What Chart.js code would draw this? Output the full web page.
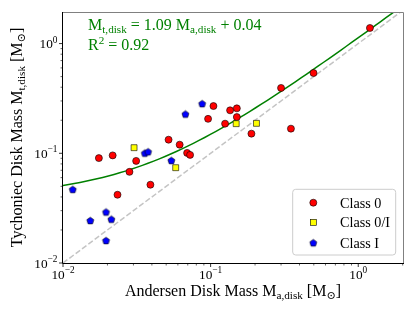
<!DOCTYPE html>
<html>
<head>
<meta charset="utf-8">
<script src="https://cdn.jsdelivr.net/npm/chart.js@4"></script>
<style>
  html, body { margin: 0; padding: 0; background: #fff; }
  canvas { display: block; }
</style>
</head>
<body>
<canvas id="myChart" width="415" height="311"></canvas>
<script>
// Andersen (x) vs Tychoniec (y) disk masses, in solar masses
var class0X = [0.0175, 0.0217, 0.0313, 0.0282, 0.0519, 0.0617, 0.0234, 0.0391, 0.0693, 0.0726,
               0.1045, 0.1355, 0.1505, 0.0961, 0.1505, 0.1253, 0.189, 0.350, 0.300, 0.498, 1.20];
var class0Y = [0.0904, 0.0957, 0.0852, 0.0677, 0.133, 0.1198, 0.0419, 0.0517, 0.1008, 0.0967,
               0.2696, 0.2463, 0.2568, 0.206, 0.2139, 0.1862, 0.151, 0.1677, 0.394, 0.539, 1.387];

var class0IX = [0.0303, 0.058, 0.149, 0.2044];
var class0IY = [0.1125, 0.0739, 0.1862, 0.1875];

var classIX = [0.0358, 0.0377, 0.0542, 0.01164, 0.0153, 0.01956, 0.02126, 0.01956, 0.0675, 0.0876];
var classIY = [0.1004, 0.1034, 0.0861, 0.0469, 0.0244, 0.0292, 0.0251, 0.01604, 0.228, 0.2836];

var legendLabels = ['Class 0', 'Class 0/I', 'Class I'];
var majorTicks = [0.01, 0.1, 1];
var tickExponents = ['\u22122', '\u22121', '0'];

// fit from the plot annotation: M_t = 1.09 M_a + 0.04
var fitSlope = 1.09;
var fitIntercept = 0.04;
var fitR2 = 0.92;

var xMin = 0.01, xMax = 2.01;
var yMin = 0.01, yMax = 1.94;

function pts(xs, ys) {
  return xs.map(function(x, i) { return {x: x, y: ys[i]}; });
}

var fitPts = [];
for (var k = 0; k <= 60; k++) {
  var fx = xMin * Math.pow(xMax / xMin, k / 60);
  fitPts.push({x: fx, y: fitSlope * fx + fitIntercept});
}

function pentagon(r, fill) {
  var s = Math.ceil(r * 2 + 3);
  var c = document.createElement('canvas');
  c.width = s; c.height = s;
  var g = c.getContext('2d');
  g.beginPath();
  for (var i = 0; i < 5; i++) {
    var a = -Math.PI / 2 + i * 2 * Math.PI / 5;
    var px = s / 2 + r * Math.cos(a), py = s / 2 + 0.4 + r * Math.sin(a);
    if (i) g.lineTo(px, py); else g.moveTo(px, py);
  }
  g.closePath();
  g.fillStyle = fill; g.fill();
  g.lineWidth = 0.6; g.strokeStyle = '#000'; g.stroke();
  return c;
}
var pentaImg = pentagon(3.7, '#0000ff');

var SERIF = '"Liberation Serif", "DejaVu Serif", serif';

function richText(ctx, parts, x, y, size, align) {
  var w = 0;
  parts.forEach(function(p) {
    ctx.font = (p.s ? size * 0.7 : size) + 'px ' + SERIF;
    w += ctx.measureText(p.t).width;
  });
  var cx = align === 'center' ? x - w / 2 : (align === 'right' ? x - w : x);
  ctx.textAlign = 'left';
  ctx.textBaseline = 'alphabetic';
  parts.forEach(function(p) {
    ctx.font = (p.s ? size * 0.7 : size) + 'px ' + SERIF;
    var dy = p.s === 'sub' ? size * 0.22 : (p.s === 'sup' ? -size * 0.4 : 0);
    ctx.fillText(p.t, cx, y + dy);
    cx += ctx.measureText(p.t).width;
  });
}

function marker(ctx, type, x, y) {
  ctx.save();
  ctx.lineWidth = 0.6;
  ctx.strokeStyle = '#000';
  if (type === 0) {
    ctx.beginPath(); ctx.arc(x, y, 3.5, 0, Math.PI * 2);
    ctx.fillStyle = '#ff0000'; ctx.fill(); ctx.stroke();
  } else if (type === 1) {
    ctx.fillStyle = '#ffff00';
    ctx.fillRect(x - 3, y - 3, 6, 6); ctx.strokeRect(x - 3, y - 3, 6, 6);
  } else {
    ctx.drawImage(pentaImg, x - pentaImg.width / 2, y - pentaImg.height / 2);
  }
  ctx.restore();
}

var decor = {
  id: 'decor',
  afterDatasetsDraw: function(chart) {
    var ctx = chart.ctx, a = chart.chartArea;
    var xs = chart.scales.x, ys = chart.scales.y;
    ctx.save();

    // frame
    ctx.lineWidth = 1;
    ctx.strokeStyle = '#808080';
    ctx.beginPath();
    ctx.moveTo(a.left, a.top + 0.5); ctx.lineTo(a.right + 0.5, a.top + 0.5); ctx.lineTo(a.right + 0.5, a.bottom);
    ctx.stroke();
    ctx.strokeStyle = '#000';
    ctx.beginPath();
    ctx.moveTo(a.left - 0.5, a.top); ctx.lineTo(a.left - 0.5, a.bottom + 0.5); ctx.lineTo(a.right + 1, a.bottom + 0.5);
    ctx.stroke();

    // ticks
    ctx.strokeStyle = '#000';
    for (var e = -2; e <= 0; e++) {
      for (var m = 1; m <= 9; m++) {
        var v = m * Math.pow(10, e);
        var len = m === 1 ? 3.5 : 2;
        ctx.lineWidth = m === 1 ? 0.8 : 0.6;
        if (v >= xMin && v <= xMax) {
          var px = xs.getPixelForValue(v);
          ctx.beginPath(); ctx.moveTo(px, a.bottom + 0.5); ctx.lineTo(px, a.bottom + 0.5 + len); ctx.stroke();
        }
        if (v >= yMin && v <= yMax) {
          var py = ys.getPixelForValue(v);
          ctx.beginPath(); ctx.moveTo(a.left - 0.5, py); ctx.lineTo(a.left - 0.5 - len, py); ctx.stroke();
        }
      }
    }

    // tick labels
    ctx.fillStyle = '#000';
    majorTicks.forEach(function(v, i) {
      var parts = [{t: '10'}, {t: tickExponents[i], s: 'sup'}];
      richText(ctx, parts, xs.getPixelForValue(v), a.bottom + 15.5, 13.3, 'center');
      richText(ctx, parts, a.left - 5.5, ys.getPixelForValue(v) + 4.5, 13.3, 'right');
    });

    // axis titles
    richText(ctx, [{t: 'Andersen Disk Mass M'}, {t: 'a,disk', s: 'sub'}, {t: ' [M'}, {t: '\u2299', s: 'sub'}, {t: ']'}],
      (a.left + a.right) / 2, 295.5, 16, 'center');
    ctx.save();
    ctx.translate(21.5, (a.top + a.bottom) / 2);
    ctx.rotate(-Math.PI / 2);
    richText(ctx, [{t: 'Tychoniec Disk Mass M'}, {t: 't,disk', s: 'sub'}, {t: ' [M'}, {t: '\u2299', s: 'sub'}, {t: ']'}],
      0, 0, 16, 'center');
    ctx.restore();

    // fit annotation
    ctx.fillStyle = '#008000';
    richText(ctx, [{t: 'M'}, {t: 't,disk', s: 'sub'}, {t: ' = ' + fitSlope.toFixed(2) + ' M'}, {t: 'a,disk', s: 'sub'},
      {t: ' + ' + fitIntercept.toFixed(2)}], 88, 29.5, 16, 'left');
    richText(ctx, [{t: 'R'}, {t: '2', s: 'sup'}, {t: ' = ' + fitR2.toFixed(2)}], 88, 50, 16, 'left');

    // legend
    var lx = 292.7, ly = 189.3, lw = 103, lh = 65.7, r = 3;
    ctx.beginPath();
    ctx.moveTo(lx + r, ly); ctx.lineTo(lx + lw - r, ly); ctx.quadraticCurveTo(lx + lw, ly, lx + lw, ly + r);
    ctx.lineTo(lx + lw, ly + lh - r); ctx.quadraticCurveTo(lx + lw, ly + lh, lx + lw - r, ly + lh);
    ctx.lineTo(lx + r, ly + lh); ctx.quadraticCurveTo(lx, ly + lh, lx, ly + lh - r);
    ctx.lineTo(lx, ly + r); ctx.quadraticCurveTo(lx, ly, lx + r, ly);
    ctx.closePath();
    ctx.fillStyle = 'rgba(255,255,255,0.8)'; ctx.fill();
    ctx.strokeStyle = '#cccccc'; ctx.lineWidth = 1; ctx.stroke();
    var rows = [202.7, 222.3, 242.7];
    legendLabels.forEach(function(lab, i) {
      marker(ctx, i, 313.3, rows[i]);
      ctx.fillStyle = '#000';
      richText(ctx, [{t: lab}], 340, rows[i] + 5, 14.2, 'left');
    });

    ctx.restore();
  }
};

const ctx = document.getElementById('myChart');

new Chart(ctx, {
  type: 'scatter',
  data: {
    datasets: [
      {
        label: 'Class 0', data: pts(class0X, class0Y), order: 3,
        backgroundColor: '#ff0000', borderColor: '#000', borderWidth: 0.6,
        pointRadius: 3.5, pointHoverRadius: 3.5
      },
      {
        label: 'Class 0/I', data: pts(class0IX, class0IY), order: 2,
        pointStyle: 'rect', backgroundColor: '#ffff00', borderColor: '#000', borderWidth: 0.6,
        pointRadius: 4.2, pointHoverRadius: 4.2
      },
      {
        label: 'Class I', data: pts(classIX, classIY), order: 1,
        pointStyle: pentaImg, pointRadius: 4, pointHoverRadius: 4
      },
      {
        type: 'line', label: 'fit', data: fitPts, order: 5,
        borderColor: '#008000', borderWidth: 1.5, pointRadius: 0, fill: false
      },
      {
        type: 'line', label: '1:1', data: [{x: xMin, y: yMin}, {x: xMax, y: xMax}], order: 6,
        borderColor: '#c4c4c4', borderWidth: 1.5, borderDash: [5.5, 2.4], pointRadius: 0, fill: false
      }
    ]
  },
  options: {
    responsive: false,
    animation: false,
    layout: { padding: { left: 63, right: 12, top: 12, bottom: 48 } },
    plugins: {
      legend: { display: false },
      tooltip: { enabled: false }
    },
    scales: {
      x: { type: 'logarithmic', min: xMin, max: xMax, display: false },
      y: { type: 'logarithmic', min: yMin, max: yMax, display: false }
    }
  },
  plugins: [decor]
});
</script>
</body>
</html>
